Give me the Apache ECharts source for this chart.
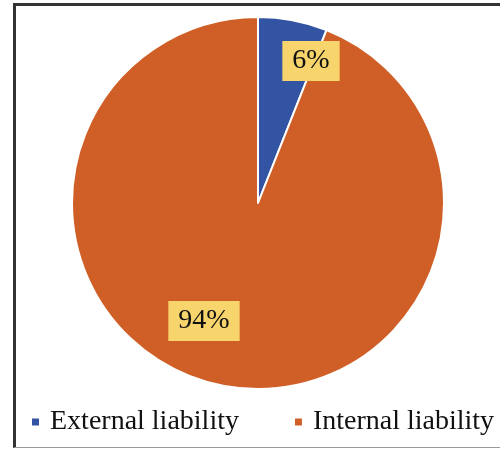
<!DOCTYPE html>
<html>
<head>
<meta charset="utf-8">
<script src="https://cdn.jsdelivr.net/npm/echarts@6/dist/echarts.min.js"></script>
<style>
html,body{margin:0;padding:0;background:#fff;}
#chart{width:500px;height:449px;}
</style>
</head>
<body>
<div id="chart"></div>
<script>
var categories = ["External liability", "Internal liability"];
var values = [6, 94];
var colors = ["#3254A3", "#CF5F27"];

var chart = echarts.init(document.getElementById('chart'), null, {renderer: 'canvas'});
var labelPos = [[311, 61], [204, 321]];
var option = {
  backgroundColor: '#ffffff',
  animation: false,
  color: colors,
  graphic: [
    {type: 'line', shape: {x1: 15, y1: 4.5, x2: 500, y2: 4.5}, style: {stroke: '#333333', lineWidth: 3}},
    {type: 'line', shape: {x1: 14.5, y1: 3, x2: 14.5, y2: 448}, style: {stroke: '#333333', lineWidth: 3}},
    {type: 'line', shape: {x1: 14, y1: 447.5, x2: 500, y2: 447.5}, style: {stroke: '#999999', lineWidth: 1}}
  ],
  legend: {
    data: categories,
    left: 30,
    top: 408,
    padding: 0,
    icon: 'rect',
    itemWidth: 9,
    itemHeight: 9,
    itemGap: 54,
    textStyle: {
      fontFamily: 'Liberation Serif',
      fontSize: 28,
      color: '#111111',
      padding: [0, 0, 0, 5]
    }
  },
  series: [{
    type: 'pie',
    center: [258, 203],
    radius: [0, 186],
    startAngle: 90,
    clockwise: true,
    avoidLabelOverlap: false,
    itemStyle: {borderColor: '#ffffff', borderWidth: 2},
    label: {
      show: true,
      position: 'inside',
      formatter: function (p) { return p.value + '%'; },
      fontFamily: 'Liberation Serif',
      fontSize: 28,
      color: '#111111',
      backgroundColor: '#F8D46C',
      padding: [7, 10, 5, 10]
    },
    labelLine: {show: false},
    labelLayout: function (p) {
      var pos = labelPos[p.dataIndex];
      return {x: pos[0], y: pos[1], align: 'center', verticalAlign: 'middle'};
    },
    data: categories.map(function (c, i) { return {name: c, value: values[i]}; })
  }]
};
chart.setOption(option);
</script>
</body>
</html>
